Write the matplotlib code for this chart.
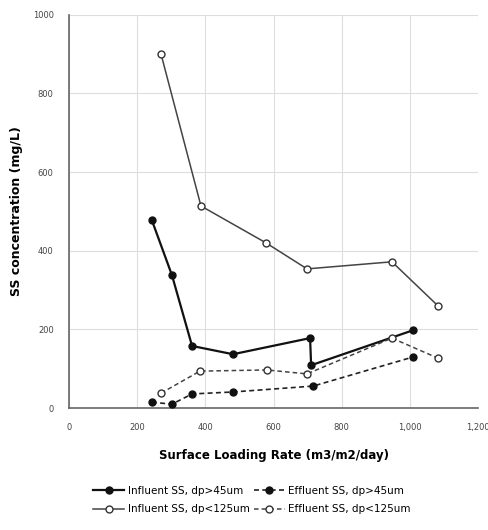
import matplotlib
matplotlib.use("Agg")
import matplotlib.pyplot as plt
from matplotlib.ticker import FuncFormatter

# Data
x_inf45 = [243, 302, 361, 481, 707, 710, 1009]
y_inf45 = [478, 338, 158, 137, 178, 109, 198]
x_eff45 = [243, 302, 361, 481, 716, 1009]
y_eff45 = [15, 10, 36, 41, 56, 130]
x_inf125 = [270, 387, 578, 698, 947, 1082]
y_inf125 = [900, 514, 420, 354, 372, 260]
x_eff125 = [270, 384, 580, 698, 947, 1082]
y_eff125 = [38, 94, 97, 87, 178, 127]

labels = ["Influent SS, dp>45um", "Effluent SS, dp>45um",
          "Influent SS, dp<125um", "Effluent SS, dp<125um"]
xticks = [0, 200, 400, 600, 800, 1000, 1200]
yticks = [0, 200, 400, 600, 800, 1000]

fig = plt.figure(figsize=(4.89, 5.30), dpi=100)
ax = fig.add_axes([0.141, 0.230, 0.837, 0.742])

ms = 5
h1, = ax.plot(x_inf45, y_inf45, '-', color='#111111', lw=1.6, marker='o', ms=ms,
              mfc='#111111', mec='#111111', label=labels[0], zorder=3)
h2, = ax.plot(x_eff45, y_eff45, '--', color='#222222', lw=1.2, marker='o', ms=ms,
              mfc='#111111', mec='#111111', label=labels[1], zorder=3, dashes=(3, 2))
h3, = ax.plot(x_inf125, y_inf125, '-', color='#444444', lw=1.1, marker='o', ms=ms,
              mfc='white', mec='#333333', label=labels[2], zorder=3)
h4, = ax.plot(x_eff125, y_eff125, '--', color='#444444', lw=1.1, marker='o', ms=ms,
              mfc='white', mec='#333333', label=labels[3], zorder=3, dashes=(3, 2))

ax.set_xlim(0, 1200)
ax.set_ylim(0, 1000)
ax.set_xticks(xticks)
ax.set_yticks(yticks)
ax.xaxis.set_major_formatter(FuncFormatter(lambda v, p: f"{int(v):,}"))
ax.yaxis.set_major_formatter(FuncFormatter(lambda v, p: f"{int(v)}"))
ax.tick_params(axis='x', labelsize=6, colors='#444444', length=0, pad=11)
ax.tick_params(axis='y', labelsize=6, colors='#444444', length=0, pad=11)
ax.grid(True, color='#dddddd', lw=0.8)
ax.set_axisbelow(True)
for s in ['top', 'right']:
    ax.spines[s].set_visible(False)
for s in ['left', 'bottom']:
    ax.spines[s].set_color('#666666')
    ax.spines[s].set_linewidth(1.2)

ax.set_xlabel("Surface Loading Rate (m3/m2/day)", fontsize=8.5, fontweight='bold', labelpad=12)
ax.set_ylabel("SS concentration (mg/L)", fontsize=9, fontweight='bold', labelpad=7)

fig.legend([h1, h3, h2, h4], [labels[0], labels[2], labels[1], labels[3]],
           loc='lower center', bbox_to_anchor=(0.515, 0.012), ncol=2, fontsize=7.5,
           frameon=False, columnspacing=0.4, handlelength=3.0, handletextpad=0.3,
           labelspacing=0.8)

fig.savefig("out.png", dpi=100)
